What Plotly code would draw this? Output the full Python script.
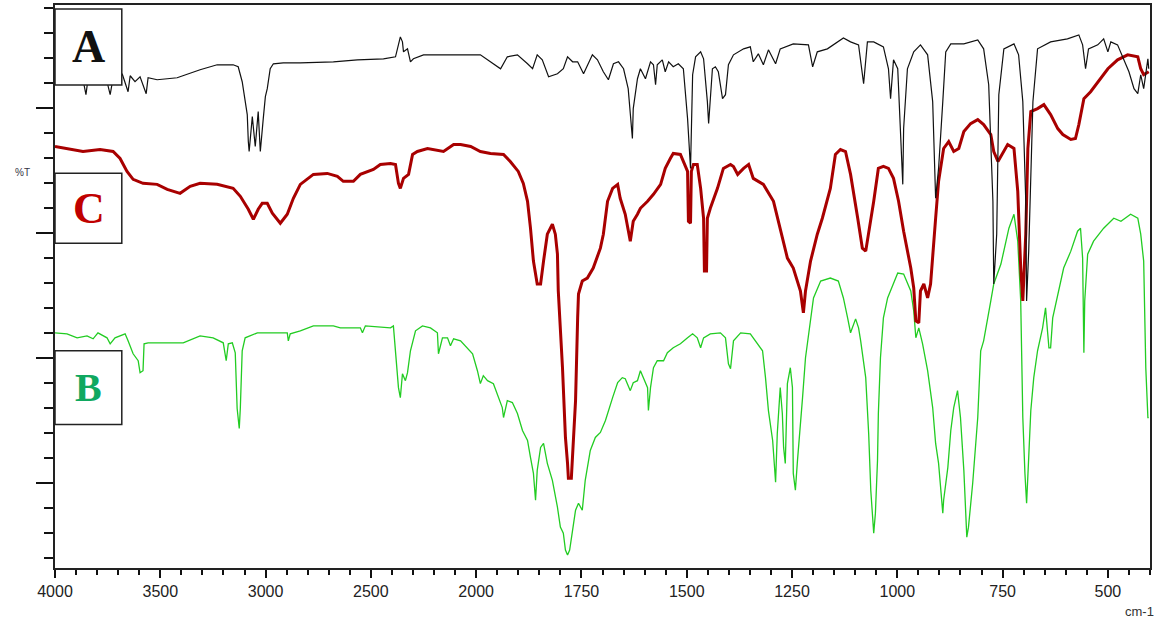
import plotly.graph_objects as go

# ---- data: (wavenumber cm-1, %T) ----
spectrum_A = [
    (4000, 98), (3943, 98.4), (3867, 98), (3853, 95), (3843, 98.2), (3786, 98), (3753, 97.6),
    (3738, 95), (3724, 98.4), (3691, 98), (3681, 99.2), (3667, 97.2), (3653, 95.6), (3643, 98.8),
    (3620, 97.6), (3596, 98.6), (3567, 95.2), (3558, 98.4), (3515, 98), (3467, 98.2), (3420, 98.4),
    (3311, 100), (3230, 101), (3154, 101), (3130, 100.6), (3111, 97.6), (3097, 94.2), (3087, 91),
    (3082, 85.6), (3078, 83.6), (3063, 90.6), (3049, 84.6), (3035, 91.6), (3025, 83.6), (3011, 90.2),
    (3001, 94.6), (2992, 96.2), (2978, 100.2), (2963, 101.2), (2916, 101.4), (2835, 101.4),
    (2678, 101.6), (2564, 102), (2440, 102.2), (2383, 102.6), (2360, 106.6), (2350, 105.6),
    (2345, 103.6), (2326, 104.2), (2312, 101.6), (2298, 102.2), (2250, 103), (1990, 103),
    (1966, 101.6), (1942, 100.2), (1926, 102.6), (1902, 103), (1878, 101.2), (1866, 100.2),
    (1855, 103), (1843, 102), (1828, 98.6), (1807, 99.2), (1793, 100.2), (1783, 102.6),
    (1771, 101.6), (1759, 101.6), (1745, 99.2), (1724, 103), (1712, 102), (1698, 99.6),
    (1686, 98), (1674, 101.2), (1662, 101.6), (1650, 100.2), (1639, 96.2), (1629, 86.2),
    (1627, 92.2), (1617, 98.2), (1610, 100.2), (1598, 98.2), (1586, 101.6), (1579, 101),
    (1574, 97), (1570, 101), (1558, 102), (1551, 99.6), (1543, 101.6), (1532, 100.6),
    (1520, 101.2), (1508, 100.2), (1498, 90.2), (1491, 80.2), (1486, 99), (1479, 102.6),
    (1467, 103.6), (1460, 102.2), (1451, 93.6), (1448, 89.2), (1439, 100.2), (1432, 100.6),
    (1425, 99.6), (1415, 94.2), (1408, 95), (1401, 101), (1389, 103), (1365, 104.2),
    (1349, 104.6), (1342, 101.6), (1330, 103.2), (1318, 101), (1306, 104), (1289, 101.2),
    (1278, 104.2), (1247, 105.2), (1211, 105), (1201, 100.6), (1190, 103.6), (1166, 104.2),
    (1128, 106.4), (1111, 105.6), (1092, 105), (1080, 97.2), (1071, 105.6), (1056, 105.6),
    (1033, 104.6), (1021, 100.2), (1016, 94.2), (1009, 102), (999, 100.2), (992, 88.2),
    (987, 77), (985, 88.2), (976, 100.2), (961, 103.6), (945, 105), (928, 103), (916, 93.6),
    (909, 74.2), (902, 80.2), (892, 93.6), (885, 103.6), (873, 105.2), (842, 105.2), (809, 106),
    (795, 104.2), (783, 97), (773, 73.6), (771, 57), (764, 67), (759, 95), (747, 104.2),
    (723, 105.2), (712, 103), (702, 93.6), (695, 73.6), (693, 53.6), (688, 63.6), (678, 93.6),
    (667, 104.2), (636, 105.6), (596, 106.2), (569, 107), (560, 105), (553, 100.2), (546, 104.2),
    (524, 105), (510, 106.2), (500, 103.6), (493, 105.6), (477, 105), (462, 102.2), (450, 99.6),
    (438, 96.2), (429, 95.2), (422, 99), (415, 96.2), (405, 102.2), (403, 100.2),
]

spectrum_C = [
    (4000, 84.6), (3943, 84.2), (3867, 83.6), (3786, 84), (3724, 83.6), (3691, 82.2), (3658, 79.6),
    (3629, 78), (3582, 77.2), (3515, 77), (3467, 76), (3406, 75.2), (3358, 76.6), (3311, 77.2),
    (3230, 77), (3154, 76.2), (3120, 74.6), (3082, 72), (3058, 70), (3035, 72), (3016, 73.2),
    (2992, 73.2), (2968, 71.2), (2930, 69.2), (2897, 71), (2868, 74.2), (2835, 77), (2773, 79),
    (2707, 79.2), (2659, 78.6), (2631, 77.6), (2583, 77.6), (2550, 79), (2488, 80), (2455, 81),
    (2407, 81.2), (2383, 81), (2369, 77.2), (2360, 76.2), (2345, 78.2), (2321, 79), (2302, 83),
    (2279, 83.6), (2231, 84.2), (2155, 83.6), (2107, 85), (2074, 85), (2026, 84.6), (1990, 83.6),
    (1966, 83.2), (1935, 83), (1919, 81.6), (1900, 79.6), (1888, 77.2), (1878, 73.6), (1871, 68.2),
    (1864, 61.6), (1855, 57), (1847, 57), (1840, 61.6), (1831, 67), (1819, 69), (1812, 67),
    (1807, 63), (1805, 55.6), (1795, 40.2), (1788, 26.2), (1783, 21), (1781, 18), (1774, 18),
    (1769, 25), (1764, 33.6), (1759, 50.2), (1757, 55), (1748, 57.6), (1736, 58.2), (1722, 60.2),
    (1705, 64.2), (1698, 67), (1688, 73.6), (1676, 76.2), (1664, 77), (1658, 74.2), (1646, 71),
    (1634, 65.6), (1627, 69.6), (1617, 71), (1610, 72.2), (1593, 73.6), (1579, 75), (1562, 77),
    (1551, 80.2), (1539, 82.2), (1532, 83.2), (1515, 83), (1508, 81.6), (1498, 79.6), (1496, 69.6),
    (1491, 69.2), (1489, 79.6), (1484, 81), (1475, 81), (1467, 76.2), (1460, 70.2), (1458, 59.6),
    (1453, 59.6), (1451, 70.2), (1444, 72.2), (1427, 76.2), (1413, 80.2), (1396, 81), (1389, 80.6),
    (1379, 79), (1365, 80.2), (1353, 81), (1342, 78.2), (1318, 77), (1294, 73.6), (1278, 68.2),
    (1261, 62.2), (1247, 60.2), (1230, 55.6), (1223, 51.2), (1218, 55.6), (1206, 61.6), (1190, 67),
    (1178, 70.2), (1159, 76.2), (1147, 83), (1135, 84), (1123, 83.6), (1111, 79), (1094, 70.2),
    (1083, 64.2), (1075, 63.6), (1068, 67), (1056, 73.6), (1045, 80.2), (1033, 80.6), (1021, 80.2),
    (1009, 78.2), (997, 73.6), (985, 67.6), (968, 60.2), (961, 56.2), (956, 49.6), (949, 49.2),
    (945, 55.6), (937, 57), (928, 54.2), (921, 57), (909, 70.2), (902, 77.6), (890, 84.2),
    (878, 85.6), (866, 83.6), (854, 84.2), (842, 87.6), (826, 89.2), (809, 90), (795, 89),
    (778, 87), (771, 83.6), (761, 81.6), (747, 83.6), (738, 85), (723, 84.2), (719, 80.2),
    (714, 75.6), (707, 60.2), (702, 53.6), (695, 67), (690, 84.2), (683, 91.6), (667, 92.2),
    (652, 93), (636, 91), (619, 88.2), (607, 87), (588, 86), (577, 86.2), (569, 89), (557, 94.2),
    (541, 95.6), (517, 98.2), (500, 100.2), (477, 102), (453, 103), (429, 102.6), (422, 100.2),
    (415, 99), (403, 99.6),
]

spectrum_B = [
    (4000, 47.2), (3943, 47), (3895, 46.2), (3848, 46.6), (3819, 46), (3796, 47.2), (3753, 46.2),
    (3738, 45), (3715, 46.2), (3667, 47), (3653, 45.6), (3629, 43), (3605, 41.6), (3596, 39.2),
    (3582, 39.6), (3577, 45), (3558, 45.2), (3391, 45.2), (3311, 46.6), (3249, 46.2), (3201, 45.2),
    (3187, 41.6), (3177, 45), (3158, 45.2), (3144, 43.2), (3135, 32), (3125, 28), (3120, 32),
    (3111, 43.6), (3097, 46.2), (3039, 47.2), (2897, 47.2), (2892, 45.6), (2883, 47), (2835, 47.6),
    (2773, 48.6), (2678, 48.6), (2645, 48.2), (2550, 48.2), (2540, 47.2), (2526, 48.6),
    (2407, 48.2), (2393, 48.6), (2379, 41.6), (2369, 36.2), (2360, 34.2), (2350, 39), (2336, 37.6),
    (2326, 39.2), (2312, 43.6), (2288, 47.6), (2255, 48.6), (2217, 48.2), (2184, 47.2), (2179, 43),
    (2160, 46.2), (2136, 46.2), (2122, 44.6), (2107, 46), (2074, 45.6), (2041, 44.2), (2017, 43),
    (1997, 39.6), (1990, 37), (1983, 38.6), (1973, 37.6), (1959, 37), (1947, 34.2), (1938, 32.2),
    (1935, 30.2), (1926, 33.6), (1914, 33.2), (1902, 31), (1890, 27.6), (1878, 25.6), (1871, 22.2),
    (1864, 19), (1859, 13.6), (1855, 19.6), (1847, 24.2), (1840, 25), (1831, 21), (1819, 17.6),
    (1807, 12.2), (1800, 8.2), (1793, 7), (1788, 3.6), (1783, 2.6), (1778, 3.6), (1771, 7.6),
    (1764, 11.6), (1757, 13), (1748, 11.6), (1741, 17.6), (1729, 23.6), (1717, 26.2), (1705, 27.2),
    (1693, 29.6), (1686, 31.6), (1676, 34.2), (1664, 37.2), (1653, 38.2), (1646, 38), (1634, 35.6),
    (1627, 37.2), (1617, 37.6), (1610, 39.6), (1603, 38.2), (1593, 36.2), (1591, 31.6), (1586, 36.2),
    (1579, 40.2), (1570, 41.6), (1555, 41.6), (1546, 43.2), (1532, 44.2), (1515, 45), (1498, 46.2),
    (1486, 47), (1475, 46.2), (1467, 44.2), (1460, 46.2), (1444, 47), (1420, 47.2), (1408, 46.2),
    (1401, 41), (1396, 40), (1389, 45.6), (1372, 47.2), (1349, 47), (1332, 45), (1320, 43.6),
    (1313, 38.2), (1306, 31.6), (1296, 25.6), (1292, 21), (1289, 17.2), (1285, 27), (1278, 36.2),
    (1273, 31), (1270, 24.2), (1266, 21), (1261, 37), (1254, 40.2), (1249, 36.2), (1247, 19),
    (1242, 15.6), (1237, 21.6), (1230, 28.2), (1225, 34.2), (1218, 42.2), (1206, 50.2),
    (1199, 54.2), (1182, 57.6), (1159, 58.2), (1140, 57.6), (1128, 54.2), (1118, 50.2),
    (1111, 47.2), (1099, 50), (1092, 48.2), (1087, 45.6), (1075, 38.2), (1068, 27), (1063, 15.6),
    (1056, 7), (1052, 11), (1047, 21.6), (1045, 31), (1040, 42.2), (1033, 50.2), (1023, 54.2),
    (999, 59.2), (985, 59), (968, 55.6), (961, 51.6), (956, 46.2), (949, 48.2), (940, 45),
    (928, 39.6), (916, 32.2), (909, 25), (902, 21), (892, 11), (890, 13.6), (880, 20.2),
    (873, 27.6), (866, 32.2), (857, 35.6), (850, 30.2), (842, 19.6), (835, 6.2), (831, 8.2),
    (821, 17), (809, 30.2), (802, 43.6), (795, 45.6), (778, 53.6), (771, 57), (754, 61),
    (735, 68.2), (723, 71), (714, 65.6), (707, 53.6), (702, 30.2), (697, 19), (693, 13),
    (688, 22.2), (683, 31.6), (676, 38.2), (667, 43.6), (655, 48.2), (648, 52.2), (640, 44.2),
    (636, 44.2), (631, 50.2), (619, 55), (605, 60.2), (588, 63.6), (572, 67.6), (565, 68.2),
    (560, 62.2), (557, 43.2), (555, 53.6), (548, 63), (534, 65.6), (510, 68.2), (486, 70.2),
    (469, 69.6), (446, 71), (429, 70.2), (422, 67), (415, 61.6), (410, 40.2), (405, 30.2),
    (403, 30.2),
]

tick_wavenumbers = [4000, 3500, 3000, 2500, 2000, 1750, 1500, 1250, 1000, 750, 500]
series_labels = ["A", "C", "B"]


def axis_pos(wn):
    # the instrument plot uses a 2x expanded scale below 2000 cm-1
    return wn if wn <= 2000 else 2000 + (wn - 2000) / 2


def split(spec):
    xs = [axis_pos(w) for w, _ in spec]
    ys = [t for _, t in spec]
    return xs, ys


fig = go.Figure()
xB, yB = split(spectrum_B)
xC, yC = split(spectrum_C)
xA, yA = split(spectrum_A)
fig.add_trace(go.Scatter(x=xB, y=yB, mode="lines", line=dict(color="#22cc22", width=1.3), name="B"))
fig.add_trace(go.Scatter(x=xC, y=yC, mode="lines", line=dict(color="#a80000", width=3), name="C"))
fig.add_trace(go.Scatter(x=xA, y=yA, mode="lines", line=dict(color="#111111", width=1.2), name="A"))

# label boxes
boxes = [
    ("A", 0.858, 0.993, "#111111", 46),
    ("C", 0.577, 0.701, "#c00000", 44),
    ("B", 0.255, 0.386, "#10a860", 40),
]
for lab, y0, y1, col, sz in boxes:
    fig.add_shape(type="rect", xref="paper", yref="paper", x0=0, x1=0.061, y0=y0, y1=y1,
                  fillcolor="white", line=dict(color="#222222", width=1.5), layer="above")
    fig.add_annotation(xref="paper", yref="paper", x=0.031, y=(y0 + y1) / 2, text=f"<b>{lab}</b>",
                       showarrow=False, font=dict(family="Liberation Serif", size=sz, color=col),
                       xanchor="center", yanchor="middle")

fig.add_annotation(xref="paper", yref="paper", x=-0.03, y=0.702, text="%T", showarrow=False,
                   font=dict(family="Liberation Sans", size=10, color="#333344"), xanchor="center", yanchor="middle")
fig.add_annotation(xref="paper", yref="paper", x=0.99, y=-0.078, text="cm-1", showarrow=False,
                   font=dict(family="Liberation Sans", size=13, color="#333"), xanchor="center", yanchor="middle")

fig.update_layout(
    width=1159, height=628,
    margin=dict(l=55, r=9, t=3, b=60),
    paper_bgcolor="white", plot_bgcolor="white",
    showlegend=False,
    xaxis=dict(
        range=[3000, 400], showgrid=False, zeroline=False,
        tickvals=[axis_pos(w) for w in tick_wavenumbers], ticktext=[str(w) for w in tick_wavenumbers],
        ticks="outside", ticklen=8, tickwidth=1.5, tickcolor="#111",
        minor=dict(ticks="outside", ticklen=5, tickwidth=1.5, tickcolor="#111", dtick=50, tick0=500),
        showline=True, linecolor="#222", linewidth=2, mirror=True,
        tickfont=dict(family="Liberation Sans", size=16, color="#222"),
    ),
    yaxis=dict(
        range=[0, 113], showgrid=False, zeroline=False, showticklabels=False,
        tick0=17, dtick=25.1, ticks="outside", ticklen=17, tickwidth=1.5, tickcolor="#111",
        minor=dict(ticks="outside", ticklen=9, tickwidth=1.5, tickcolor="#111", dtick=5.02, tick0=17),
        showline=True, linecolor="#222", linewidth=2, mirror=True,
    ),
)

fig.write_html("out.html", config={"displayModeBar": False},
               post_script="document.body.style.margin='0';")
